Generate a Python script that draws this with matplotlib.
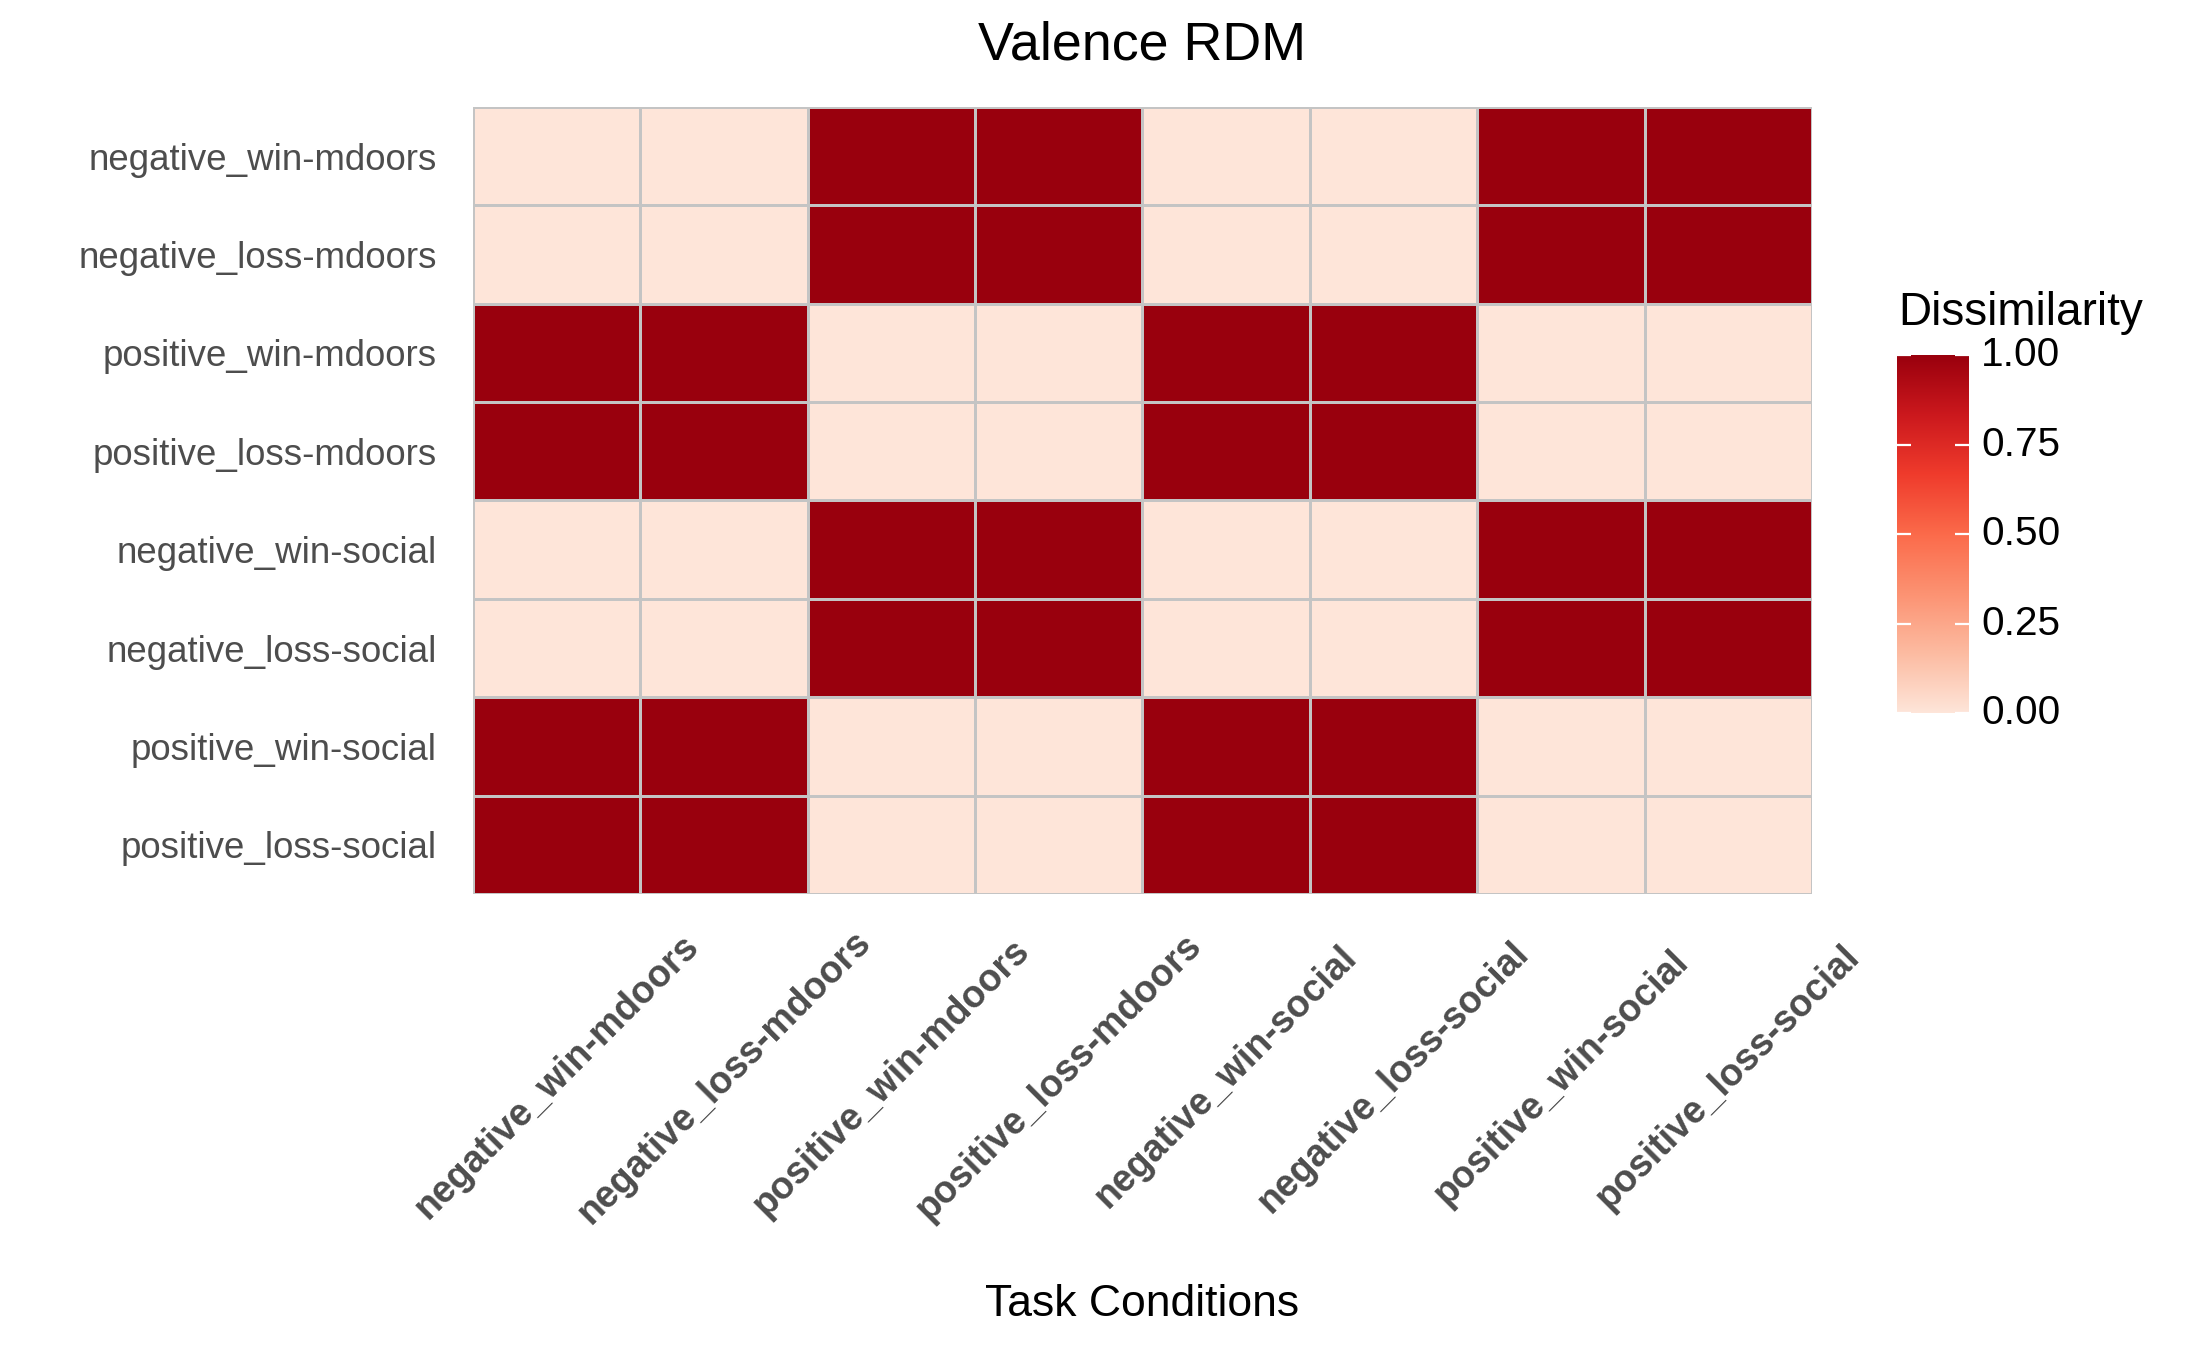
import numpy as np
import matplotlib
matplotlib.use("Agg")
import matplotlib.pyplot as plt
from matplotlib.colors import LinearSegmentedColormap

plt.rcParams['font.family'] = ['Liberation Sans', 'DejaVu Sans']

conditions = [
    "negative_win-mdoors", "negative_loss-mdoors",
    "positive_win-mdoors", "positive_loss-mdoors",
    "negative_win-social", "negative_loss-social",
    "positive_win-social", "positive_loss-social",
]

# dissimilarity, rows top to bottom
rdm = [
    [0, 0, 1, 1, 0, 0, 1, 1],
    [0, 0, 1, 1, 0, 0, 1, 1],
    [1, 1, 0, 0, 1, 1, 0, 0],
    [1, 1, 0, 0, 1, 1, 0, 0],
    [0, 0, 1, 1, 0, 0, 1, 1],
    [0, 0, 1, 1, 0, 0, 1, 1],
    [1, 1, 0, 0, 1, 1, 0, 0],
    [1, 1, 0, 0, 1, 1, 0, 0],
]
cbar_ticks = [0.0, 0.25, 0.5, 0.75, 1.0]

reds = ["#fee5d9", "#fcbba1", "#fc9272", "#fb6a4a", "#ef3b2c", "#cb181d", "#99000d"]
cmap = LinearSegmentedColormap.from_list("reds7", reds)

fig = plt.figure(figsize=(10.935, 6.755), dpi=200)
ax = fig.add_axes([0.2163, 0.3383, 0.6122, 0.5825])

data = np.array(rdm, dtype=float)
n = len(conditions)
mesh = ax.pcolormesh(np.arange(n + 1), np.arange(n + 1), data, cmap=cmap, vmin=0, vmax=1,
                     edgecolors="#c4c4c4", linewidth=0.4)
ax.set_xlim(0, n)
ax.set_ylim(n, 0)
for s in ax.spines.values():
    s.set_visible(False)

ax.set_yticks(np.arange(n) + 0.5)
ax.set_yticklabels(conditions, fontsize=13.2, color="#4d4d4d")
ax.set_xticks(np.arange(n) + 0.5)
ax.set_xticklabels(conditions, fontsize=13.5, fontweight="bold", color="#4d4d4d",
                   rotation=45, ha="center", va="center", rotation_mode="anchor")
ax.tick_params(axis="y", length=0, pad=13)
ax.tick_params(axis="x", length=0, pad=66)

fig.text(0.5222, 1 - 45 / 1351, "Valence RDM", ha="center", va="center", fontsize=19.4)
fig.text(0.5222, 1 - 1305 / 1351, "Task Conditions", ha="center", va="center", fontsize=16)

# colorbar
cax = fig.add_axes([0.8674, 0.4722, 0.0329, 0.265])
grad = np.linspace(0, 1, 256).reshape(-1, 1)
cax.imshow(grad, cmap=cmap, aspect="auto", origin="lower", extent=[0, 1, 0, 1])
cax.set_xlim(0, 1)
cax.set_ylim(0, 1)
cax.axis("off")
for t in cbar_ticks:
    cax.plot([0, 0.2], [t, t], color="white", lw=0.8, solid_capstyle="butt")
    cax.plot([0.8, 1], [t, t], color="white", lw=0.8, solid_capstyle="butt")
    cax.text(1.17, t, f"{t:.2f}", transform=cax.transData, ha="left", va="center",
             fontsize=14.6, clip_on=False)
fig.text(1898 / 2187, 1 - 325 / 1351, "Dissimilarity", ha="left", va="baseline", fontsize=16.5)

fig.savefig("out.png", dpi=200, facecolor="white")
